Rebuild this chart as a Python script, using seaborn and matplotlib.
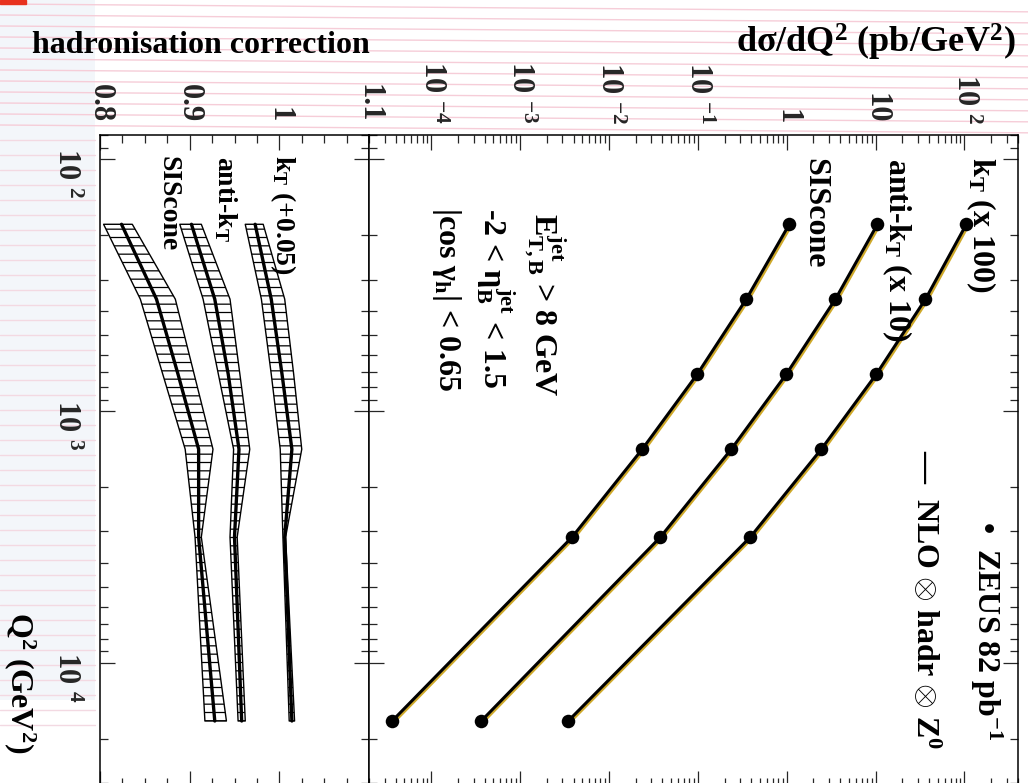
import numpy as np
import pandas as pd
import matplotlib
matplotlib.use("Agg")
import matplotlib.pyplot as plt
import seaborn as sns
from matplotlib.ticker import FixedLocator, FixedFormatter, LogLocator, NullFormatter, MultipleLocator
from matplotlib.transforms import offset_copy
from matplotlib.patches import Rectangle

# ---------------- data ----------------
q2 = [181, 359, 713, 1416, 3162, 17000]                       # GeV^2 (bin centres)

xsec_kt = [1.05, 0.364, 0.102, 0.0245, 0.0039, 3.48e-5]       # pb/GeV^2
xsec_antikt = [1.05, 0.353, 0.099, 0.0238, 0.0038, 3.66e-5]
xsec_siscone = [1.07, 0.351, 0.0986, 0.0237, 0.00386, 3.64e-5]

nlo_kt = [1.05, 0.364, 0.102, 0.0245, 0.0039, 3.48e-5]
nlo_antikt = [1.05, 0.353, 0.099, 0.0238, 0.0038, 3.66e-5]
nlo_siscone = [1.07, 0.351, 0.0986, 0.0237, 0.00386, 3.64e-5]

scale_kt, scale_antikt, scale_siscone = 100, 10, 1

hadr_kt = [0.923, 0.941, 0.953, 0.964, 0.956, 0.964]
hadr_kt_lo = [0.912, 0.930, 0.941, 0.951, 0.954, 0.961]
hadr_kt_hi = [0.932, 0.956, 0.966, 0.975, 0.957, 0.967]
kt_offset = 0.05

hadr_antikt = [0.902, 0.928, 0.943, 0.955, 0.950, 0.958]
hadr_antikt_lo = [0.889, 0.915, 0.932, 0.949, 0.945, 0.954]
hadr_antikt_hi = [0.913, 0.945, 0.956, 0.967, 0.953, 0.962]

hadr_siscone = [0.824, 0.863, 0.887, 0.910, 0.910, 0.928]
hadr_siscone_lo = [0.804, 0.845, 0.870, 0.895, 0.906, 0.917]
hadr_siscone_hi = [0.836, 0.884, 0.905, 0.926, 0.913, 0.941]

xs_ticks = [1e-4, 1e-3, 1e-2, 1e-1, 1, 10, 100]
xs_ticklabels = [r"10 $^{-4}$", r"10 $^{-3}$", r"10 $^{-2}$", r"10 $^{-1}$", "1", "10", r"10 $^{2}$"]
hc_ticks = [0.8, 0.9, 1.0, 1.1]
hc_ticklabels = ["0.8", "0.9", "1", "1.1"]
q2_ticks = [1e2, 1e3, 1e4]
q2_ticklabels = [r"10 $^{2}$", r"10 $^{3}$", r"10 $^{4}$"]

# ---------------- style ----------------
sns.set_style("ticks")
plt.rcParams.update({
    "font.family": ["Liberation Serif", "DejaVu Serif"],
    "font.weight": "bold",
    "mathtext.fontset": "custom",
    "mathtext.rm": "Liberation Serif:bold",
    "mathtext.it": "Liberation Serif:bold",
    "mathtext.bf": "Liberation Serif:bold",
    "mathtext.sf": "Liberation Serif:bold",
    "mathtext.default": "rm",
    "axes.linewidth": 1.1,
    "axes.edgecolor": "black",
    "hatch.linewidth": 0.9,
    "hatch.color": "black",
})

W, H = 1028, 783
fig = plt.figure(figsize=(W / 100, H / 100), dpi=100)
fig.patch.set_facecolor("white")

# faint background decoration (watermark-like)
fig.add_artist(Rectangle((0, 1 - 700 / H), 95 / W, 700 / H, color="#dfe8f2", alpha=0.35, zorder=-6, lw=0))
for k in range(12):
    yy = 1 - (4 + 11 * k) / H
    fig.add_artist(plt.Line2D([0, 1], [yy, yy - 0.01], color="#f6cdd8", lw=1.0, zorder=-5))
for k in range(40):
    yy = 1 - (140 + 15 * k) / H
    fig.add_artist(plt.Line2D([0, 95 / W], [yy, yy], color="#f3d9e2", lw=1.0, zorder=-5))
fig.add_artist(Rectangle((0, 1 - 4 / H), 26 / W, 4 / H, color="#e8321e", zorder=5))

bottom_px = 786
ax_h = fig.add_axes([100 / W, 1 - bottom_px / H, 269 / W, (bottom_px - 135) / H])
ax_x = fig.add_axes([369 / W, 1 - bottom_px / H, 649 / W, (bottom_px - 135) / H])

YLIM = (30800, 80)
yellow = "#cfa92a"

# ---------------- upper (cross-section) panel ----------------
series = [
    (xsec_kt, nlo_kt, scale_kt),
    (xsec_antikt, nlo_antikt, scale_antikt),
    (xsec_siscone, nlo_siscone, scale_siscone),
]
for data, nlo, sc in series:
    df = pd.DataFrame({"q2": q2, "data": np.array(data) * sc, "nlo": np.array(nlo) * sc})
    sns.lineplot(data=df, x="nlo", y="q2", orient="y", estimator=None, sort=False,
                 color=yellow, lw=1.8, ax=ax_x, zorder=2)
    ax_x.lines[-1].set_transform(offset_copy(ax_x.transData, fig=fig, x=2.2, y=-1.0, units="dots"))
    sns.lineplot(data=df, x="nlo", y="q2", orient="y", estimator=None, sort=False,
                 color="black", lw=2.2, ax=ax_x, zorder=3)
    sns.scatterplot(data=df, x="data", y="q2", color="black", s=95, edgecolor="black",
                    linewidth=0, ax=ax_x, zorder=4)

ax_x.set_xscale("log")
ax_x.set_yscale("log")
ax_x.set_xlim(2e-5, 400)
ax_x.set_ylim(*YLIM)
ax_x.xaxis.set_major_locator(FixedLocator(xs_ticks))
ax_x.xaxis.set_major_formatter(FixedFormatter(xs_ticklabels))
ax_x.xaxis.set_minor_locator(LogLocator(base=10, subs=np.arange(2, 10)))
ax_x.xaxis.set_minor_formatter(NullFormatter())
ax_x.yaxis.set_major_locator(FixedLocator(q2_ticks))
ax_x.yaxis.set_minor_locator(LogLocator(base=10, subs=np.arange(2, 10)))
ax_x.yaxis.set_minor_formatter(NullFormatter())
ax_x.tick_params(axis="x", which="both", direction="in", top=True, bottom=True,
                 labeltop=True, labelbottom=False, labelsize=22, pad=8, labelrotation=270)
ax_x.tick_params(axis="y", which="both", direction="in", left=True, right=True,
                 labelleft=False, labelright=False)
ax_x.tick_params(which="major", length=11, width=0.9)
ax_x.tick_params(which="minor", length=6, width=0.9)
ax_x.set_xlabel("")
ax_x.set_ylabel("")

# ---------------- lower (hadronisation correction) panel ----------------
bands = [
    (np.array(hadr_kt) + kt_offset, np.array(hadr_kt_lo) + kt_offset, np.array(hadr_kt_hi) + kt_offset),
    (np.array(hadr_antikt), np.array(hadr_antikt_lo), np.array(hadr_antikt_hi)),
    (np.array(hadr_siscone), np.array(hadr_siscone_lo), np.array(hadr_siscone_hi)),
]
for centre, lo, hi in bands:
    ax_h.fill_betweenx(q2, lo, hi, facecolor="white", edgecolor="black", hatch="--",
                       linewidth=1.0, zorder=2)
    dfh = pd.DataFrame({"q2": q2, "c": centre})
    sns.lineplot(data=dfh, x="c", y="q2", orient="y", estimator=None, sort=False,
                 color="black", lw=2.4, ax=ax_h, zorder=3)

ax_h.set_yscale("log")
ax_h.set_xlim(0.8, 1.1)
ax_h.set_ylim(*YLIM)
ax_h.xaxis.set_major_locator(FixedLocator(hc_ticks))
ax_h.xaxis.set_major_formatter(FixedFormatter(hc_ticklabels))
ax_h.xaxis.set_minor_locator(MultipleLocator(0.025))
ax_h.yaxis.set_major_locator(FixedLocator(q2_ticks))
ax_h.yaxis.set_major_formatter(FixedFormatter(q2_ticklabels))
ax_h.yaxis.set_minor_locator(LogLocator(base=10, subs=np.arange(2, 10)))
ax_h.yaxis.set_minor_formatter(NullFormatter())
ax_h.tick_params(axis="x", which="both", direction="in", top=True, bottom=True,
                 labeltop=True, labelbottom=False, labelsize=22, pad=9, labelrotation=270)
ax_h.tick_params(axis="y", which="both", direction="in", left=True, right=True,
                 labelleft=True, labelright=False, labelsize=22, pad=14, labelrotation=270)
ax_h.tick_params(which="major", length=11, width=0.9)
ax_h.tick_params(which="minor", length=6, width=0.9)
ax_h.set_xlabel("")
ax_h.set_ylabel("")

for ax in (ax_h, ax_x):
    ax.set_facecolor("white")
    ax.grid(False)
    for sp in ax.spines.values():
        sp.set_visible(True)
        sp.set_linewidth(1.1)

# ---------------- texts ----------------
def ftext(xpx, ypx, s, size, ha="left", va="top", rot=270):
    fig.text(xpx / W, 1 - ypx / H, s, fontsize=size, ha=ha, va=va, rotation=rot,
             fontweight="bold", color="black", zorder=6)

ftext(32, 53, "hadronisation correction", 23, ha="left", va="baseline", rot=0)
ftext(1016, 53, r"d$\sigma$/dQ$^{2}$ (pb/GeV$^{2}$)", 26, ha="right", va="baseline", rot=0)
ftext(2, 612, r"Q$^{2}$ (GeV$^{2}$)", 23, ha="left", va="top")

# curve labels, upper panel
ftext(964, 157, r"k$_{T}$ (x 100)", 23)
ftext(880, 158, r"anti-k$_{T}$ (x 10)", 23)
ftext(800, 158, "SIScone", 23)
# legend
ftext(968, 521, r"•  ZEUS 82 pb$^{-1}$", 23)
ftext(909, 450, r"—  NLO $\otimes$ hadr $\otimes$ Z$^{0}$", 23)
# cuts
ftext(521, 213, r"E$^{jet}_{T,B}$ > 8 GeV", 23)
ftext(474, 208, r"-2 < $\eta^{jet}_{B}$ < 1.5", 23)
ftext(430, 207, r"|cos $\gamma_{h}$| < 0.65", 23)

# curve labels, lower panel
ftext(268, 155, r"k$_{T}$ (+0.05)", 20)
ftext(212, 156, r"anti-k$_{T}$", 20)
ftext(155, 156, "SIScone", 20)

fig.savefig("out.png", dpi=100, facecolor="white")
